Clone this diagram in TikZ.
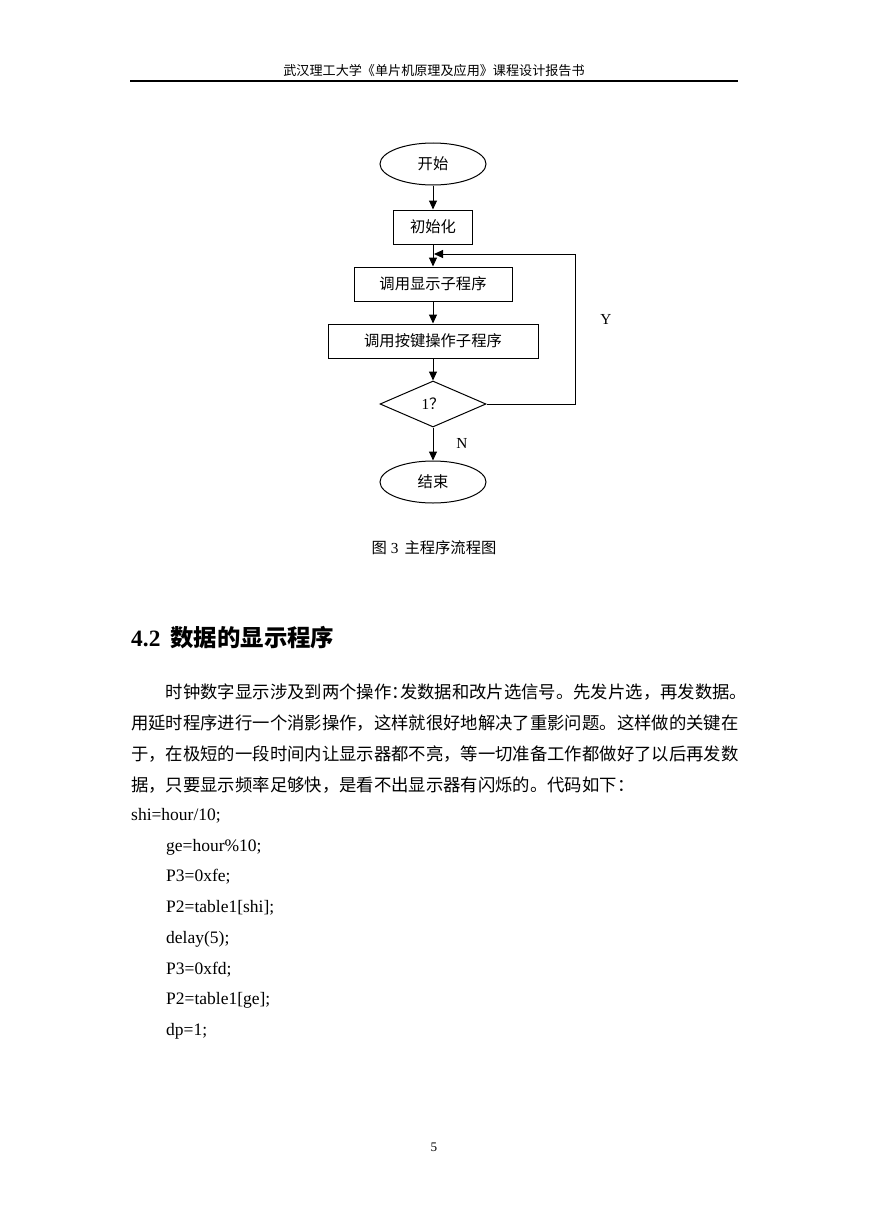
\documentclass[tikz,border=0pt]{standalone}
\usepackage{fontspec}
\setmainfont{Liberation Serif}
\newfontfamily\cjk{Noto Sans CJK SC}
\usetikzlibrary{shapes.geometric,arrows.meta}
\newcommand{\halfpunctl}[1]{\makebox[0.5em][l]{#1}}
\tikzset{
  flowfont/.style={font=\cjk\fontsize{15.3}{15.3}\selectfont},
  procbox/.style={draw, line width=1pt, minimum height=34pt, inner sep=0pt, flowfont},
  termnode/.style={draw, line width=1pt, ellipse, minimum width=106pt, minimum height=42pt, inner sep=0pt, flowfont},
  decnode/.style={draw, line width=1pt, diamond, minimum width=106pt, minimum height=46pt, inner sep=0pt, flowfont},
  arr/.style={line width=1pt, -{Triangle[length=9pt,width=8pt]}},
  ylabel/.style={font=\fontsize{15.3}{15.3}\selectfont, inner sep=0pt},
  bodyline/.style={anchor=west, inner sep=0pt, font=\cjk\fontsize{17.35}{17.35}\selectfont},
  codeline/.style={anchor=west, inner sep=0pt, font=\fontsize{17.5}{17.5}\selectfont},
}
\begin{document}
\begin{tikzpicture}[x=1pt,y=-1pt]
\useasboundingbox[fill=white] (0,0) rectangle (869,1228);
% header
\node[inner sep=0pt, font=\cjk\fontsize{13.1}{13.1}\selectfont] (hdr) at (434,71) {武汉理工大学《单片机原理及应用》课程设计报告书};
\coordinate (hl) at (130,81);
\coordinate (hr) at (738,81);
\draw[line width=1.2pt] (hl) -- (hr);
% flowchart
\node[termnode] (start) at (433,164) {开始};
\node[procbox, minimum width=79pt] (init) at (433,227) {初始化};
\node[procbox, minimum width=158pt] (disp) at (433,284) {调用显示子程序};
\node[procbox, minimum width=210pt] (key) at (433,341) {调用按键操作子程序};
\node[decnode] (dec) at (433,404) {\fontspec{Liberation Serif}1{\cjk ？}};
\node[termnode] (stop) at (433,482) {结束};
\draw[arr] (start) -- (init);
\draw[arr] (init) -- (disp);
\draw[arr] (disp) -- (key);
\draw[arr] (key) -- (dec);
\draw[arr] (dec) -- (stop);
\coordinate (c1) at (575,404);
\coordinate (c2) at (575,254);
\coordinate (lp) at (434,254);
\draw[arr] (dec.east) -- (c1) -- (c2) -- (lp);
\node[ylabel] (ylab) at (606,319) {Y};
\node[ylabel] (nlab) at (462,443) {N};
% caption
\node[inner sep=0pt, font=\cjk\fontsize{15.3}{15.3}\selectfont] (cap) at (434,548) {图\hspace{4pt}{\fontspec{Liberation Serif}3}\hspace{6pt}主程序流程图};
% heading
\node[anchor=west, inner sep=0pt, font=\fontsize{23.4}{23.4}\selectfont\bfseries] (head) at (131,638) {4.2\hspace{10pt}{\cjk 数据的显示程序}};
% body
\node[bodyline] (l1) at (165.7,692) {时钟数字显示涉及到两个操作\halfpunctl{：}发数据和改片选信号。先发片选，再发数据\halfpunctl{。}};
\node[bodyline] (l2) at (131,723) {用延时程序进行一个消影操作，这样就很好地解决了重影问题。这样做的关键在};
\node[bodyline] (l3) at (131,754) {于，在极短的一段时间内让显示器都不亮，等一切准备工作都做好了以后再发数};
\node[bodyline] (l4) at (131,785) {据，只要显示频率足够快，是看不出显示器有闪烁的。代码如下：};
% code
\node[codeline] (k1) at (131,816) {shi=hour/10;};
\node[codeline] (k2) at (166,847) {ge=hour\%10;};
\node[codeline] (k3) at (166,877) {P3=0xfe;};
\node[codeline] (k4) at (166,908) {P2=table1[shi];};
\node[codeline] (k5) at (166,939) {delay(5);};
\node[codeline] (k6) at (166,970) {P3=0xfd;};
\node[codeline] (k7) at (166,1000) {P2=table1[ge];};
\node[codeline] (k8) at (166,1031) {dp=1;};
% page number
\node[inner sep=0pt, font=\fontsize{13.1}{13.1}\selectfont] (pg) at (434,1147) {5};
\end{tikzpicture}
\end{document}
